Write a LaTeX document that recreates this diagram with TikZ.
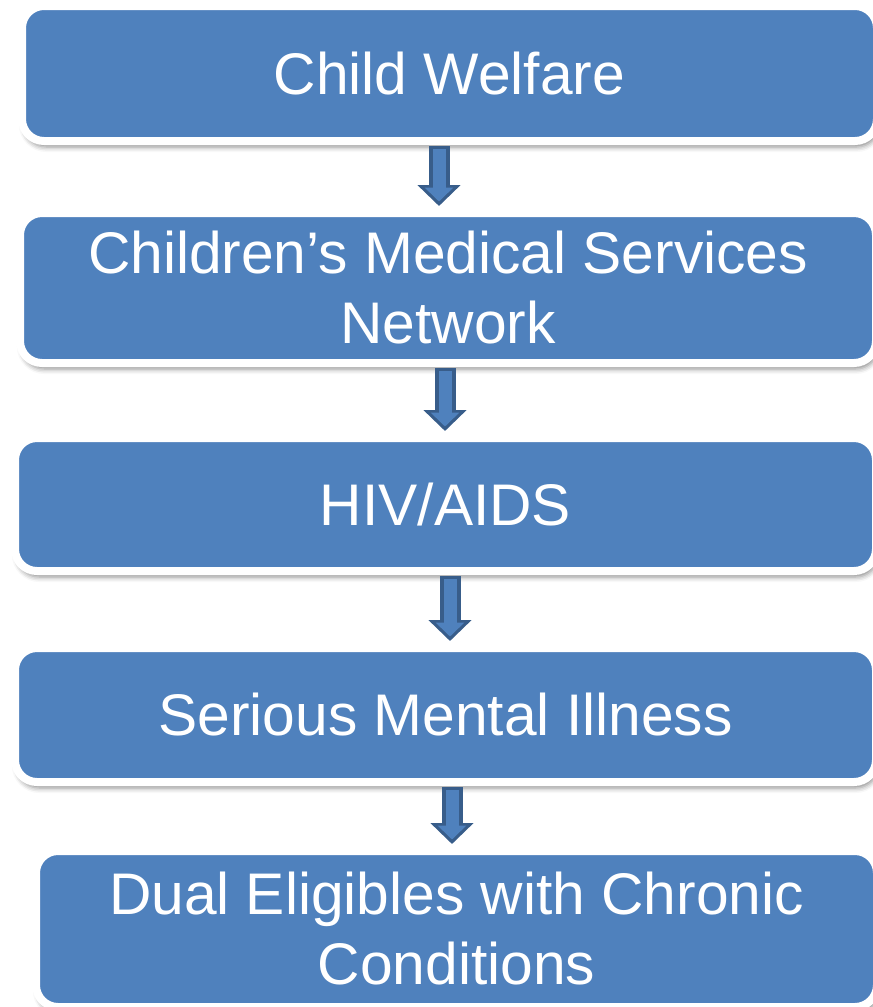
\documentclass[tikz,border=0pt]{standalone}
\usepackage{fontspec}
\setmainfont{Liberation Sans}
\usetikzlibrary{arrows.meta}
\usetikzlibrary{shadows.blur}

\definecolor{boxblue}{HTML}{4F81BD}
\definecolor{arrowdark}{HTML}{385D8A}

\tikzset{
  stagebox/.style={rectangle, rounded corners=22pt, fill=boxblue, draw=white,
    line width=8pt, inner sep=0pt, outer sep=0pt, align=center, text=white,
    font=\fontsize{58.7}{70}\selectfont,
    blur shadow={shadow xshift=2pt, shadow yshift=-6pt, shadow blur radius=5pt, shadow opacity=45}},
  arrowouter/.style={draw=arrowdark, line width=21pt,
    -{Triangle[width=42pt,length=21pt]}, shorten <=5pt, shorten >=7pt},
  arrowinner/.style={draw=boxblue, line width=13pt,
    -{Triangle[width=28pt,length=14pt]}, shorten <=8pt, shorten >=11.5pt}
}

\begin{document}
\begin{tikzpicture}[x=1pt,y=-1pt]
\useasboundingbox (0,0) rectangle (873,1007);
% the five stages
\node[stagebox, minimum width=855, minimum height=135] (child) at (449.5,73.5) {Child Welfare};
\node[stagebox, minimum width=856, minimum height=150] (cmsn) at (448,288) {Children’s Medical Services\\Network};
\node[stagebox, minimum width=861, minimum height=133] (hiv) at (445.5,504.5) {HIV/AIDS};
\node[stagebox, minimum width=861, minimum height=134] (smi) at (445.5,715) {Serious Mental Illness};
\node[stagebox, minimum width=841, minimum height=156] (dual) at (456.5,929) {Dual Eligibles with Chronic\\Conditions};
% block arrows between them
\foreach \a/\b/\s in {child/cmsn/-10.5, cmsn/hiv/-3, hiv/smi/4.5, smi/dual/6.5} {
  \draw[arrowouter] ([xshift=\s]\a.south) -- ([xshift=\s]\a.south |- \b.north);
  \draw[arrowinner] ([xshift=\s]\a.south) -- ([xshift=\s]\a.south |- \b.north);
}
\end{tikzpicture}
\end{document}
